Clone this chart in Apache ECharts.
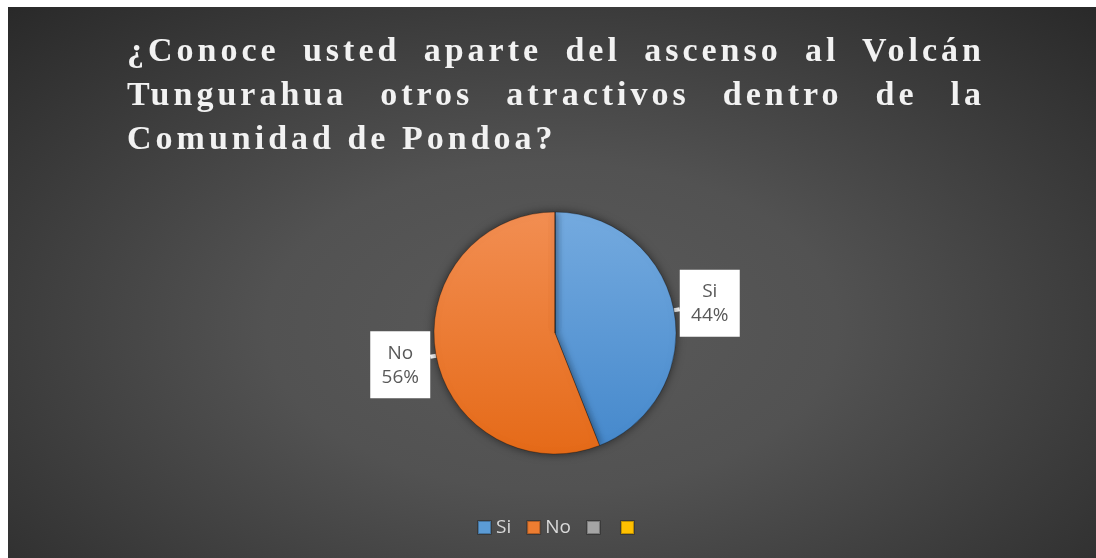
<!DOCTYPE html>
<html>
<head>
<meta charset="utf-8">
<script src="https://cdn.jsdelivr.net/npm/echarts@6/dist/echarts.min.js"></script>
<style>
  html, body { margin: 0; padding: 0; background: #ffffff; }
  #wrap {
    position: absolute; left: 8px; top: 7px; width: 1088px; height: 551px;
    background: radial-gradient(ellipse 75% 85% at 50% 58%, #5a5a5a 0%, #525252 35%, #3a3a3a 70%, #262626 100%);
  }
  #main { position: absolute; left: 0; top: 0; width: 1088px; height: 551px; }
  .lin {
    position: absolute; left: 119px; width: 858px; height: 44px;
    font-family: 'Liberation Serif', serif; font-weight: bold;
    font-size: 34px; line-height: 44px; letter-spacing: 4px; color: #f2f2f2;
    white-space: nowrap; text-align: justify; text-align-last: justify;
    pointer-events: none;
  }
</style>
</head>
<body>
<div id="wrap">
  <div id="main"></div>
  <div class="lin" style="top:21px">¿Conoce usted aparte del ascenso al Volcán</div>
  <div class="lin" style="top:65px">Tungurahua otros atractivos dentro de la</div>
  <div class="lin" style="top:109px;text-align-last:left">Comunidad de Pondoa?</div>
</div>
<script>
// respuestas de la encuesta
const categorias = ['Si', 'No', '\u200b', '\u200b\u200b']
const valores = [44, 56, 0, 0]
const colores = ['#5b9bd5', '#ed7d31', '#a5a5a5', '#ffc000']
const degradados = [
  ['#74aadf', '#4689cc'],
  ['#f28e52', '#e56a18']
]

const myChart = echarts.init(document.getElementById('main'))

const datos = []
for (let i = 0; i < categorias.length; i++) {
  const item = {
    name: categorias[i],
    value: valores[i],
    itemStyle: { color: colores[i] }
  }
  if (degradados[i]) {
    item.itemStyle.color = {
      type: 'linear', x: 0, y: 0, x2: 0, y2: 1,
      colorStops: [
        { offset: 0, color: degradados[i][0] },
        { offset: 1, color: degradados[i][1] }
      ]
    }
  } else {
    item.label = { show: false }
    item.labelLine = { show: false }
  }
  datos.push(item)
}

const option = {
  backgroundColor: 'transparent',
  legend: {
    data: categorias.map((c, i) => ({ name: c, itemStyle: { color: colores[i] } })),
    left: 464,
    top: 506,
    icon: 'rect',
    itemWidth: 13,
    itemHeight: 13,
    itemGap: 15,
    selectedMode: false,
    textStyle: { color: '#d9d9d9', fontSize: 19, fontFamily: 'Open Sans, Noto Sans, sans-serif' }
  },
  series: [{
    type: 'pie',
    center: [547, 326],
    radius: 121,
    startAngle: 90,
    clockwise: true,
    avoidLabelOverlap: false,
    itemStyle: {
      borderColor: 'rgba(0,0,0,0.25)',
      borderWidth: 0.6,
      shadowBlur: 10,
      shadowColor: 'rgba(0,0,0,0.55)'
    },
    label: {
      show: true,
      position: 'outside',
      formatter: '{t|{b}}\n{t|{d}%}',
      backgroundColor: '#ffffff',
      padding: [10, 10, 9, 10],
      distanceToLabelLine: 0,
      rich: {
        t: {
          width: 40,
          align: 'center',
          color: '#595959',
          fontSize: 19,
          lineHeight: 24,
          fontFamily: 'Open Sans, Noto Sans, sans-serif'
        }
      }
    },
    labelLine: {
      show: true,
      length: 6,
      length2: 0,
      lineStyle: { color: '#ffffff', width: 4 }
    },
    labelLayout: function (p) {
      return { dy: p.dataIndex === 0 ? -6 : 8 }
    },
    emphasis: { disabled: true },
    data: datos
  }]
}

myChart.setOption(option)
</script>
</body>
</html>
